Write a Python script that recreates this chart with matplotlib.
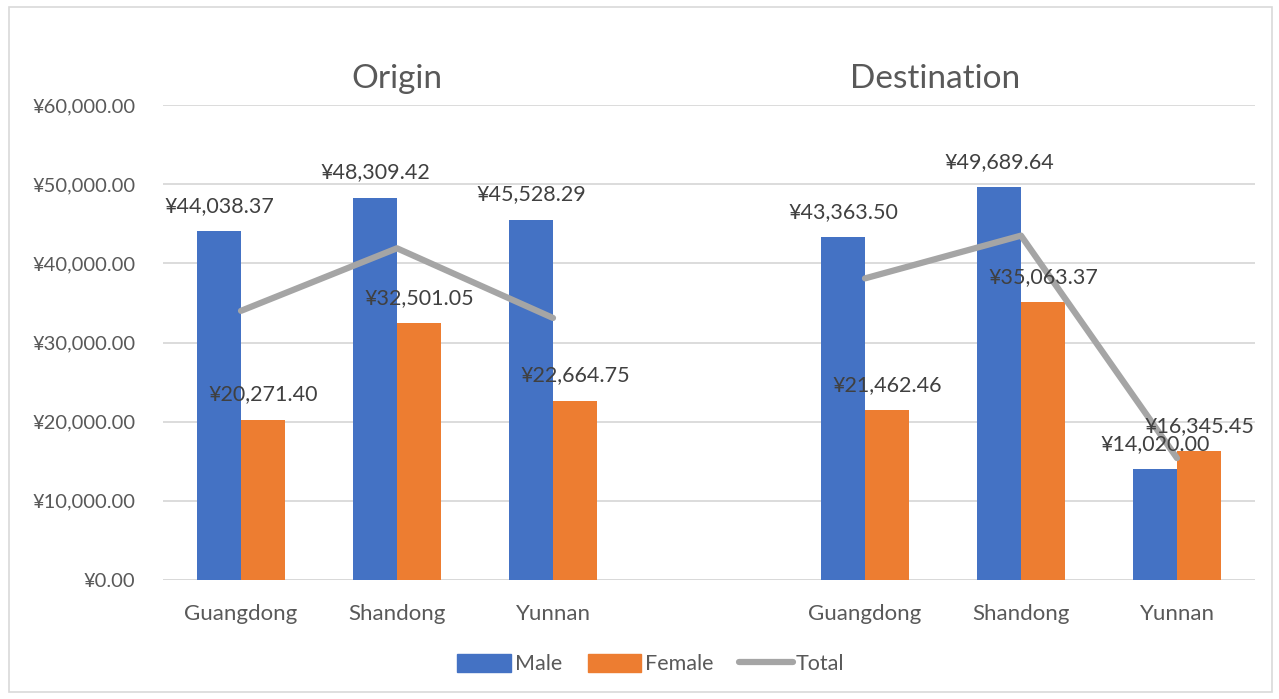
import numpy as np
import matplotlib
matplotlib.use("Agg")
import matplotlib.pyplot as plt
from matplotlib.patches import Patch, Rectangle
from matplotlib.lines import Line2D
from matplotlib.ticker import FuncFormatter

# Data (gap slot between Origin and Destination groups)
categories = ['Guangdong', 'Shandong', 'Yunnan', '', 'Guangdong', 'Shandong', 'Yunnan']
male = [44038.37, 48309.42, 45528.29, np.nan, 43363.50, 49689.64, 14020.00]
female = [20271.40, 32501.05, 22664.75, np.nan, 21462.46, 35063.37, 16345.45]
total = [34000, 41900, 33100, np.nan, 38100, 43500, 15400]
group_titles = ['Origin', 'Destination']

blue = '#4472C4'
orange = '#ED7D31'
gray = '#A5A5A5'
txt = '#595959'

plt.rcParams['font.family'] = ['Lato', 'DejaVu Sans']

fig = plt.figure(figsize=(12.79, 6.99), dpi=100)
ax = fig.add_axes([163 / 1279, 1 - 580 / 699, (1255 - 163) / 1279, (580 - 105) / 699])

x = np.arange(len(categories))
w = 0.282

ax.bar(x - w / 2, male, w, color=blue, zorder=2)
ax.bar(x + w / 2, female, w, color=orange, zorder=2)
ax.plot(x, total, color=gray, lw=4.5, zorder=3, solid_capstyle='round')

# data labels above bars
for xi, m, f in zip(x, male, female):
    if np.isnan(m):
        continue
    ax.annotate(f'¥{m:,.2f}', (xi - w / 2, m), xytext=(0, 18), textcoords='offset points',
                ha='center', va='center', fontsize=15.5, color='#404040', zorder=4)
    ax.annotate(f'¥{f:,.2f}', (xi + w / 2, f), xytext=(0, 18), textcoords='offset points',
                ha='center', va='center', fontsize=15.5, color='#404040', zorder=4)

ax.set_xlim(-0.5, len(categories) - 0.5)
ax.set_ylim(0, 60000)
ax.set_yticks(np.arange(0, 60001, 10000))
ax.yaxis.set_major_formatter(FuncFormatter(lambda v, p: f'¥{v:,.2f}'))
ax.set_xticks(x)
ax.set_xticklabels(categories)
ax.tick_params(axis='y', length=0, pad=20, labelsize=14.5, labelcolor=txt)
ax.tick_params(axis='x', length=0, pad=17, labelsize=16, labelcolor=txt)
ax.grid(axis='y', color='#D9D9D9', lw=1.3, zorder=0)
ax.axhline(0, color='#D9D9D9', lw=1.3, zorder=1)
for s in ax.spines.values():
    s.set_visible(False)

# group titles
ax.text(1.0, 63300, group_titles[0], ha='center', va='center', fontsize=24, color=txt, clip_on=False)
ax.text(4.45, 63300, group_titles[1], ha='center', va='center', fontsize=24, color=txt, clip_on=False)

handles = [Patch(color=blue, label='Male'), Patch(color=orange, label='Female'),
           Line2D([], [], color=gray, lw=4.5, solid_capstyle='round', label='Total')]
fig.legend(handles=handles, loc='center', bbox_to_anchor=(651 / 1279, 1 - 664 / 699), ncol=3,
           frameon=False, fontsize=15.5, labelcolor=txt, handlelength=2.5, handleheight=0.9,
           handletextpad=0.15, columnspacing=1.2)

fig.patches.append(Rectangle((9 / 1279, 1 - 692 / 699), (1272 - 9) / 1279, (692 - 7) / 699,
                             transform=fig.transFigure, fill=False, edgecolor='#D9D9D9', lw=1.2))

fig.savefig('out.png', dpi=100)
